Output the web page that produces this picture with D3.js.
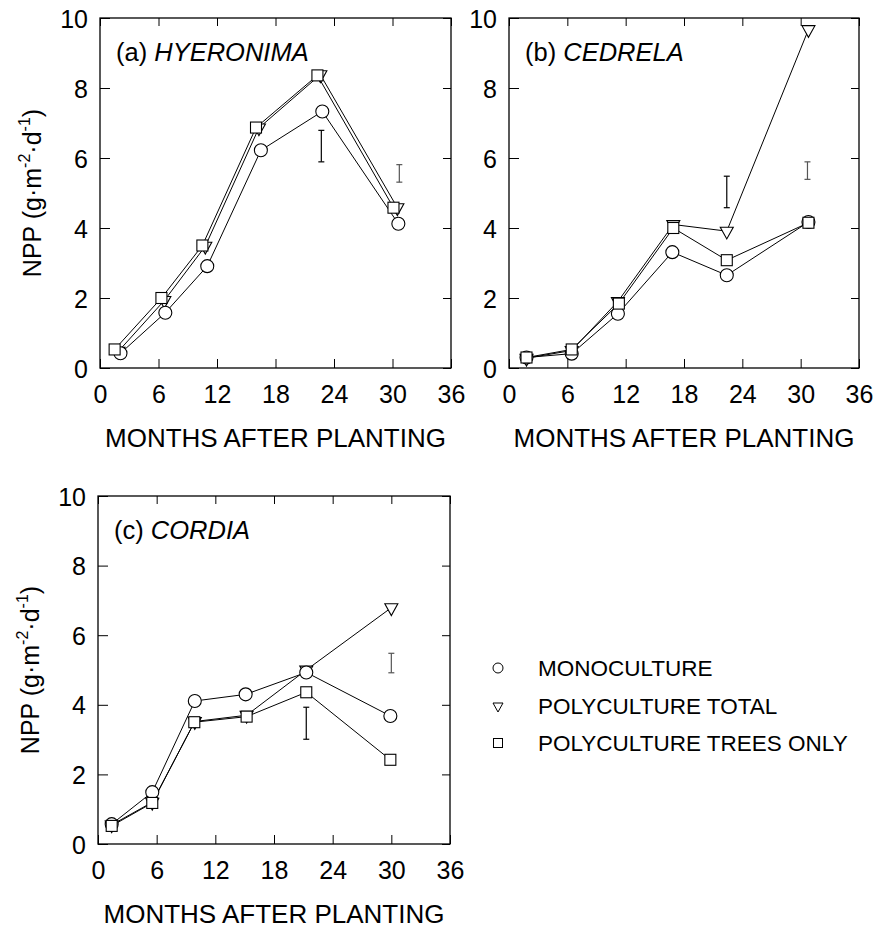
<!DOCTYPE html>
<html>
<head>
<meta charset="utf-8">
<script src="https://cdn.jsdelivr.net/npm/d3@7"></script>
<style>
  body { margin: 0; background: #fff; }
  svg { display: block; font-family: "Liberation Sans", Arial, sans-serif; }
</style>
</head>
<body>
<svg id="chart" width="877" height="929"></svg>
<script>
// panel labels
const panelTags = [ '(a) ', '(b) ', '(c) ' ];
const speciesNames = [ 'HYERONIMA', 'CEDRELA', 'CORDIA' ];

// months after planting, per panel, per series
const monoMonths = [
    [ 2.1, 6.7, 11.0, 16.5, 22.8, 30.6 ],
    [ 1.8, 6.45, 11.2, 16.8, 22.4, 30.8 ],
    [ 1.4, 5.55, 9.9, 15.1, 21.3, 29.9 ]
];
const totalMonths = [
    [ 1.9, 6.6, 10.8, 16.3, 22.6, 30.5 ],
    [ 1.8, 6.45, 11.2, 16.9, 22.4, 30.8 ],
    [ 1.4, 5.55, 9.9, 15.2, 21.3, 30.0 ]
];
const treesMonths = [
    [ 1.5, 6.3, 10.5, 16.0, 22.3, 30.1 ],
    [ 1.8, 6.45, 11.3, 16.9, 22.4, 30.8 ],
    [ 1.4, 5.55, 9.85, 15.2, 21.3, 29.9 ]
];

// NPP (g m-2 d-1)
const monoNpp = [
    [ 0.42, 1.58, 2.91, 6.22, 7.33, 4.12 ],
    [ 0.30, 0.41, 1.55, 3.31, 2.65, 4.17 ],
    [ 0.57, 1.49, 4.11, 4.30, 4.93, 3.68 ]
];
const totalNpp = [
    [ 0.48, 1.93, 3.48, 6.86, 8.38, 4.58 ],
    [ 0.28, 0.50, 1.90, 4.10, 3.91, 9.67 ],
    [ 0.55, 1.20, 3.52, 3.70, 5.00, 6.79 ]
];
const treesNpp = [
    [ 0.53, 2.00, 3.50, 6.87, 8.36, 4.58 ],
    [ 0.30, 0.53, 1.84, 4.00, 3.08, 4.15 ],
    [ 0.52, 1.18, 3.50, 3.66, 4.36, 2.42 ]
];

// error bars (LSD) per panel
const errMonths = [ [ 22.7, 30.7 ], [ 22.4, 30.7 ], [ 21.3, 30.0 ] ];
const errLow = [ [ 5.89, 5.31 ], [ 4.58, 5.39 ], [ 3.01, 4.92 ] ];
const errHigh = [ [ 6.79, 5.81 ], [ 5.48, 5.89 ], [ 3.93, 5.48 ] ];

const xTicks = [ 0, 6, 12, 18, 24, 30, 36 ];
const yTicks = [ 0, 2, 4, 6, 8, 10 ];
const legendLabels = [ 'MONOCULTURE', 'POLYCULTURE TOTAL', 'POLYCULTURE TREES ONLY' ];

const panelBoxes = [
    { left: 100, top: 18, width: 351, height: 350 },
    { left: 509, top: 18, width: 350, height: 350 },
    { left: 98, top: 496, width: 352, height: 348 }
];

const svg = d3.select( '#chart' );

function drawMarker( g, kind, x, y, s ) {
    if ( kind === 'circle' ) {
        g.append( 'circle' ).attr( 'cx', x ).attr( 'cy', y ).attr( 'r', s / 2 );
    } else if ( kind === 'square' ) {
        g.append( 'rect' ).attr( 'x', x - s / 2 ).attr( 'y', y - s / 2 )
            .attr( 'width', s ).attr( 'height', s );
    } else {
        const h = s * 0.9;
        g.append( 'path' )
            .attr( 'd', `M${x - s / 2},${y - h / 3}L${x + s / 2},${y - h / 3}L${x},${y + 2 * h / 3}Z` );
    }
}

function drawPanel( i ) {
    const box = panelBoxes[ i ];
    const g = svg.append( 'g' ).attr( 'transform', `translate(${box.left},${box.top})` );

    const xScale = d3.scaleLinear().domain( [ 0, 36 ] ).range( [ 0, box.width ] );
    const yScale = d3.scaleLinear().domain( [ 0, 10 ] ).range( [ box.height, 0 ] );

    // axes with inward ticks
    g.append( 'g' ).attr( 'transform', `translate(0,${box.height})` )
        .call( d3.axisBottom( xScale ).tickValues( xTicks ).tickSize( -9 ).tickPadding( 17 ) );
    const left = g.append( 'g' )
        .call( d3.axisLeft( yScale ).tickValues( yTicks ).tickSize( -10 ).tickPadding( 12 ) );
    g.append( 'g' )
        .call( d3.axisTop( xScale ).tickValues( xTicks ).tickSize( -8 ).tickFormat( '' ) );
    g.append( 'g' ).attr( 'transform', `translate(${box.width},0)` )
        .call( d3.axisRight( yScale ).tickValues( yTicks ).tickSize( -8 ).tickFormat( '' ) );
    g.selectAll( '.domain' ).remove();
    g.selectAll( '.tick line' ).attr( 'stroke', '#000' ).attr( 'stroke-width', 1 );
    g.selectAll( '.tick text' ).attr( 'fill', '#000' ).style( 'font-size', '25px' )
        .style( 'font-family', '"Liberation Sans", Arial, sans-serif' );
    left.selectAll( '.tick text' ).attr( 'dy', '0.36em' );

    g.append( 'rect' )
        .attr( 'width', box.width ).attr( 'height', box.height )
        .attr( 'fill', 'none' ).attr( 'stroke', '#000' ).attr( 'stroke-width', 1.3 );

    // panel title
    const title = g.append( 'text' ).attr( 'x', 16 ).attr( 'y', 34 ).attr( 'dy', '0.36em' )
        .style( 'font-size', '25.5px' );
    title.append( 'tspan' ).text( panelTags[ i ] );
    title.append( 'tspan' ).style( 'font-style', 'italic' ).text( speciesNames[ i ] );

    // axis titles
    svg.append( 'text' )
        .attr( 'x', box.left + box.width / 2 ).attr( 'y', box.top + box.height + 70 )
        .attr( 'dy', '0.36em' ).attr( 'text-anchor', 'middle' )
        .style( 'font-size', '26px' )
        .text( 'MONTHS AFTER PLANTING' );

    if ( i !== 1 ) {
        const yt = svg.append( 'text' )
            .attr( 'transform', `translate(${box.left - 68},${box.top + box.height / 2}) rotate(-90)` )
            .attr( 'text-anchor', 'middle' ).attr( 'dy', '0.36em' )
            .style( 'font-size', '25px' );
        yt.append( 'tspan' ).text( 'NPP (g·m' );
        yt.append( 'tspan' ).attr( 'dy', '-0.7em' ).style( 'font-size', '16px' ).text( '-2' );
        yt.append( 'tspan' ).attr( 'dy', '0.45em' ).text( '·d' );
        yt.append( 'tspan' ).attr( 'dy', '-0.7em' ).style( 'font-size', '16px' ).text( '-1' );
        yt.append( 'tspan' ).attr( 'dy', '0.45em' ).text( ')' );
    }

    // error bars
    const eg = g.append( 'g' ).attr( 'stroke-width', 1.2 );
    errMonths[ i ].forEach( ( m, j ) => {
        const x = xScale( m );
        const y0 = yScale( errLow[ i ][ j ] );
        const y1 = yScale( errHigh[ i ][ j ] );
        const col = j === 0 ? '#000' : '#555';
        eg.append( 'line' ).attr( 'x1', x ).attr( 'x2', x ).attr( 'y1', y0 ).attr( 'y2', y1 ).attr( 'stroke', col );
        eg.append( 'line' ).attr( 'x1', x - 3 ).attr( 'x2', x + 3 ).attr( 'y1', y0 ).attr( 'y2', y0 ).attr( 'stroke', col );
        eg.append( 'line' ).attr( 'x1', x - 3 ).attr( 'x2', x + 3 ).attr( 'y1', y1 ).attr( 'y2', y1 ).attr( 'stroke', col );
    } );

    const series = [
        { kind: 'triangle', months: totalMonths[ i ], npp: totalNpp[ i ], size: 13 },
        { kind: 'circle', months: monoMonths[ i ], npp: monoNpp[ i ], size: 13 },
        { kind: 'square', months: treesMonths[ i ], npp: treesNpp[ i ], size: 11 }
    ];

    const line = d3.line().x( d => xScale( d[ 0 ] ) ).y( d => yScale( d[ 1 ] ) );
    series.forEach( s => {
        g.append( 'path' )
            .datum( d3.zip( s.months, s.npp ) )
            .attr( 'd', line )
            .attr( 'fill', 'none' ).attr( 'stroke', '#000' ).attr( 'stroke-width', 1 );
    } );
    series.forEach( s => {
        const mg = g.append( 'g' ).attr( 'fill', '#fff' ).attr( 'stroke', '#000' ).attr( 'stroke-width', 1.1 );
        s.months.forEach( ( m, j ) => drawMarker( mg, s.kind, xScale( m ), yScale( s.npp[ j ] ), s.size ) );
    } );
}

[ 0, 1, 2 ].forEach( drawPanel );

// legend
const legendKinds = [ 'circle', 'triangle', 'square' ];
const legendRows = [ 668, 706, 743 ];
const lg = svg.append( 'g' );
legendLabels.forEach( ( label, i ) => {
    const mg = lg.append( 'g' ).attr( 'fill', '#fff' ).attr( 'stroke', '#000' ).attr( 'stroke-width', 1 );
    drawMarker( mg, legendKinds[ i ], 498, legendRows[ i ], legendKinds[ i ] === 'square' ? 9 : 10 );
    lg.append( 'text' ).attr( 'x', 538 ).attr( 'y', legendRows[ i ] ).attr( 'dy', '0.36em' )
        .style( 'font-size', '22.5px' ).text( label );
} );
</script>
</body>
</html>
